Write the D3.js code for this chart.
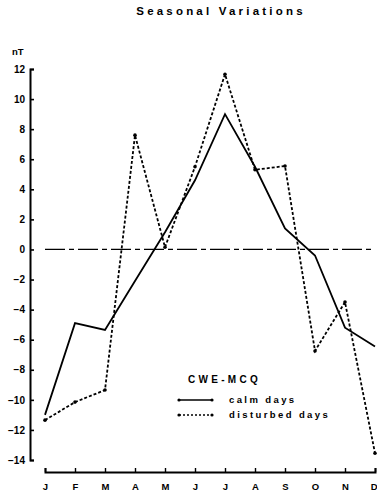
<!DOCTYPE html>
<html>
<head>
<meta charset="utf-8">
<script src="https://cdn.jsdelivr.net/npm/d3@7"></script>
<style>
  html, body { margin: 0; padding: 0; background: #fff; }
  svg { display: block; }
  text { font-family: "Liberation Sans", Arial, sans-serif; font-weight: bold; fill: #000; }
</style>
</head>
<body>
<script>
// Monthly mean variation (nT), CWE-MCQ
const months = ["J", "F", "M", "A", "M", "J", "J", "A", "S", "O", "N", "D"];
const calmDays = [-11.0, -4.9, -5.35, -2.1, 1.15, 4.6, 9.0, 5.5, 1.4, -0.4, -5.2, -6.45];
const disturbedDays = [-11.35, -10.15, -9.35, 7.6, 0.15, 5.5, 11.65, 5.3, 5.55, -6.75, -3.5, -13.55];
const yTicks = [12, 10, 8, 6, 4, 2, 0, -2, -4, -6, -8, -10, -12, -14];

const W = 377, H = 497;
const svg = d3.select("body").append("svg").attr("width", W).attr("height", H);

const x = d3.scaleLinear().domain([0, months.length - 1]).range([45, 375]);
const y = d3.scaleLinear().domain([-14, 12]).range([460, 69]);

// Title
svg.append("text")
  .attr("x", 221).attr("y", 15)
  .attr("text-anchor", "middle")
  .style("font-size", "11.5px")
  .style("letter-spacing", "3.2px")
  .text("Seasonal Variations");

// Unit label
svg.append("text")
  .attr("x", 12).attr("y", 55)
  .style("font-size", "9.5px")
  .text("nT");

// Y axis
const yAxis = svg.append("g")
  .attr("transform", "translate(30,0)")
  .call(d3.axisLeft(y).tickValues(yTicks).tickSize(-4).tickPadding(5));
yAxis.select(".domain").attr("stroke-width", 2);
yAxis.selectAll(".tick line").attr("stroke-width", 1.6);
yAxis.selectAll(".tick text")
  .style("font-size", "10px")
  .style("font-family", "Liberation Sans, Arial, sans-serif")
  .style("font-weight", "bold");

// X axis
const xAxis = svg.append("g")
  .attr("transform", "translate(0,472)")
  .call(d3.axisBottom(x).tickValues(d3.range(months.length))
    .tickFormat(i => months[i]).tickSize(-4).tickPadding(11));
xAxis.select(".domain").attr("stroke-width", 2);
xAxis.selectAll(".tick line").attr("stroke-width", 1.4);
xAxis.selectAll(".tick text")
  .style("font-size", "9.5px")
  .style("font-family", "Liberation Sans, Arial, sans-serif")
  .style("font-weight", "bold");
// keep the last month label inside the page edge
xAxis.selectAll(".tick text")
  .filter(i => i === months.length - 1)
  .attr("text-anchor", "end")
  .attr("dx", 2);

// Zero reference line
svg.append("line")
  .attr("x1", x(0)).attr("x2", x(months.length - 1))
  .attr("y1", y(0)).attr("y2", y(0))
  .attr("stroke", "#000").attr("stroke-width", 1.2)
  .attr("stroke-dasharray", "20,4,5,4");

const line = d3.line().x((d, i) => x(i)).y(d => y(d));

// Calm days
svg.append("path")
  .datum(calmDays)
  .attr("d", line)
  .attr("fill", "none").attr("stroke", "#000")
  .attr("stroke-width", 1.8).attr("stroke-linejoin", "miter");

// Disturbed days
svg.append("path")
  .datum(disturbedDays)
  .attr("d", line)
  .attr("fill", "none").attr("stroke", "#000")
  .attr("stroke-width", 1.8).attr("stroke-dasharray", "3,2");

svg.selectAll("circle.dist")
  .data(disturbedDays)
  .join("circle")
  .attr("class", "dist")
  .attr("cx", (d, i) => x(i)).attr("cy", d => y(d))
  .attr("r", 1.8).attr("fill", "#000");

// Legend
const leg = svg.append("g");
leg.append("text")
  .attr("x", 188).attr("y", 383)
  .style("font-size", "10px").style("letter-spacing", "3.3px")
  .text("CWE-MCQ");

leg.append("line")
  .attr("x1", 179).attr("x2", 212).attr("y1", 400).attr("y2", 400)
  .attr("stroke", "#000").attr("stroke-width", 1.6);
leg.append("line")
  .attr("x1", 179).attr("x2", 212).attr("y1", 415).attr("y2", 415)
  .attr("stroke", "#000").attr("stroke-width", 1.6).attr("stroke-dasharray", "2,2");
[[179, 400], [212, 400], [179, 415], [212, 415]].forEach(([cx, cy]) => {
  leg.append("circle").attr("cx", cx).attr("cy", cy).attr("r", 1.6).attr("fill", "#000");
});

leg.append("text")
  .attr("x", 229).attr("y", 403)
  .style("font-size", "9.5px").style("letter-spacing", "2.4px")
  .text("calm days");
leg.append("text")
  .attr("x", 229).attr("y", 418)
  .style("font-size", "9.5px").style("letter-spacing", "2.4px")
  .text("disturbed days");
</script>
</body>
</html>
